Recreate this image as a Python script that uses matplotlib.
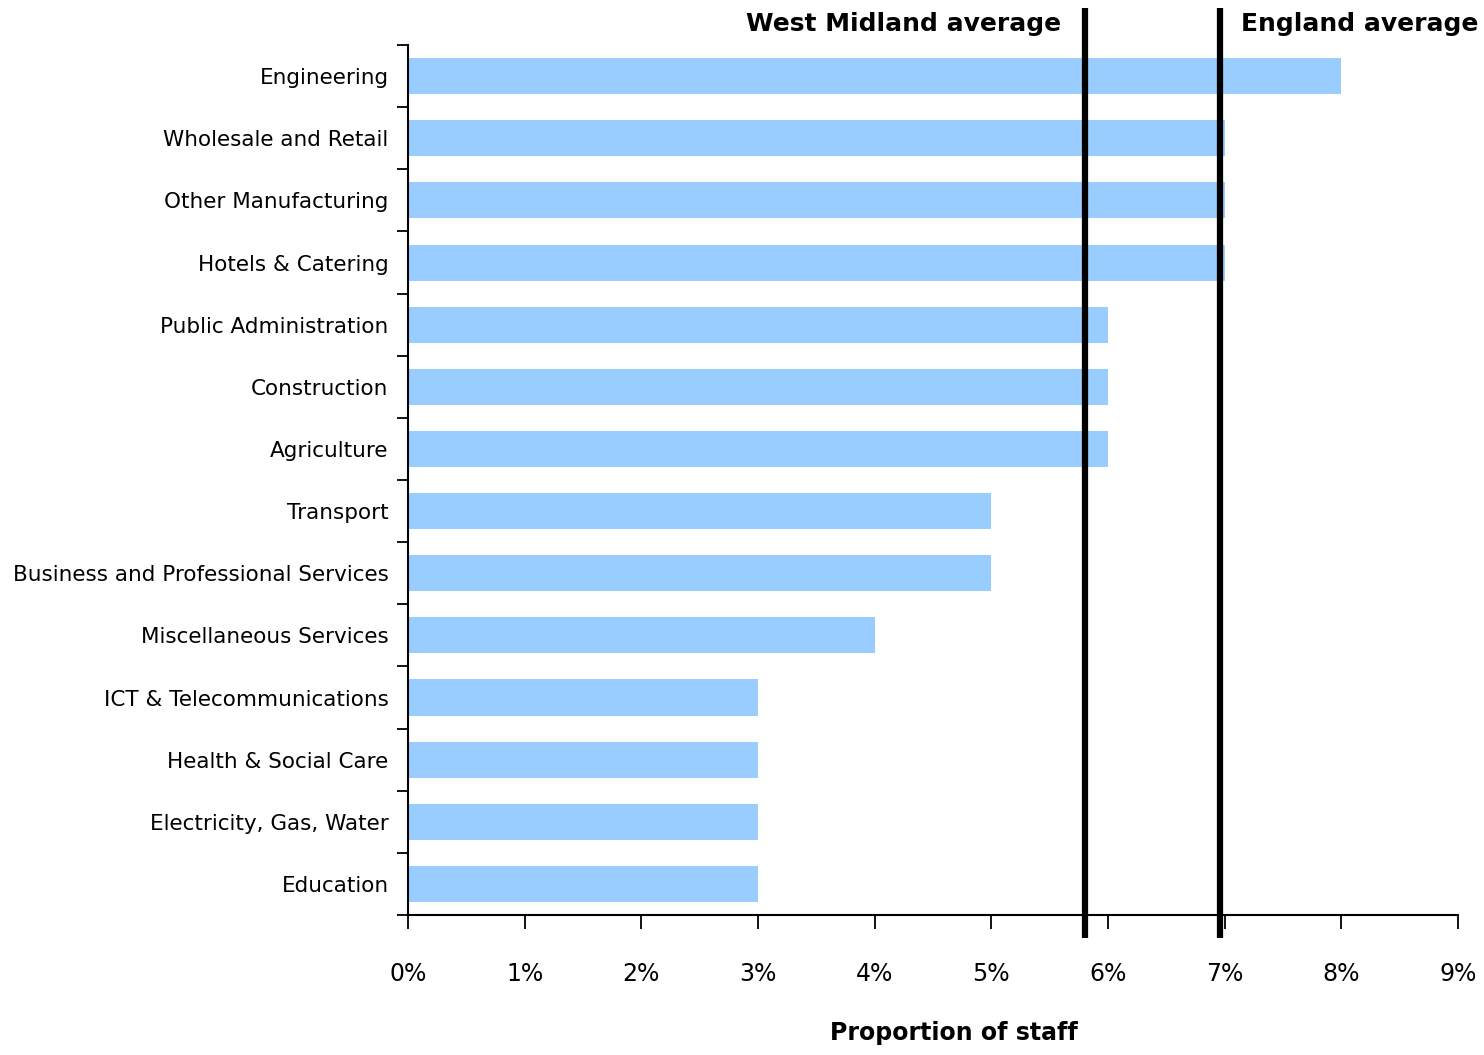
import matplotlib.pyplot as plt
from matplotlib.ticker import MultipleLocator, FixedLocator, PercentFormatter

# data
sectors = ['Engineering', 'Wholesale and Retail', 'Other Manufacturing', 'Hotels & Catering',
           'Public Administration', 'Construction', 'Agriculture', 'Transport',
           'Business and Professional Services', 'Miscellaneous Services',
           'ICT & Telecommunications', 'Health & Social Care', 'Electricity, Gas, Water',
           'Education']
share = [8, 7, 7, 7, 6, 6, 6, 5, 5, 4, 3, 3, 3, 3]
west_midland_avg = 5.8
england_avg = 6.96

plt.rcParams['font.family'] = ['DejaVu Sans']

fig = plt.figure(figsize=(14.84, 10.55), dpi=100)
ax = fig.add_axes([0.2749, 0.1327, 0.7076, 0.8246])

n = len(sectors)
ypos = list(range(n))
ax.barh(ypos, share, height=0.58, color='#99CCFF', zorder=2)
ax.set_ylim(n - 0.5, -0.5)
ax.set_xlim(0, 9)

# average lines, drawn past the plot area
for val in (west_midland_avg, england_avg):
    ax.plot([val, val], [-1.1, n - 0.5 + 0.37], color='black', lw=4.5,
            clip_on=False, zorder=3, solid_capstyle='butt')

ax.text(west_midland_avg - 0.2, -0.84, 'West Midland average', ha='right', va='center',
        fontsize=18, fontweight='bold')
ax.text(england_avg + 0.18, -0.84, 'England average', ha='left', va='center',
        fontsize=18, fontweight='bold')

ax.set_yticks(ypos)
ax.set_yticklabels(sectors, fontsize=15.5)
ax.yaxis.set_minor_locator(FixedLocator([i - 0.5 for i in range(n + 1)]))
ax.tick_params(axis='y', which='major', length=0, pad=14)
ax.tick_params(axis='y', which='minor', length=8, width=1.3, direction='out')

ax.xaxis.set_major_locator(MultipleLocator(1))
ax.xaxis.set_major_formatter(PercentFormatter(decimals=0))
ax.tick_params(axis='x', length=10, width=1.3, direction='out', labelsize=17, pad=24)
ax.set_xlabel('Proportion of staff', fontsize=17, fontweight='bold')
ax.xaxis.set_label_coords(0.52, -0.122)

for s in ('top', 'right'):
    ax.spines[s].set_visible(False)
for s in ('left', 'bottom'):
    ax.spines[s].set_linewidth(1.5)

fig.savefig('out.png', dpi=100)
